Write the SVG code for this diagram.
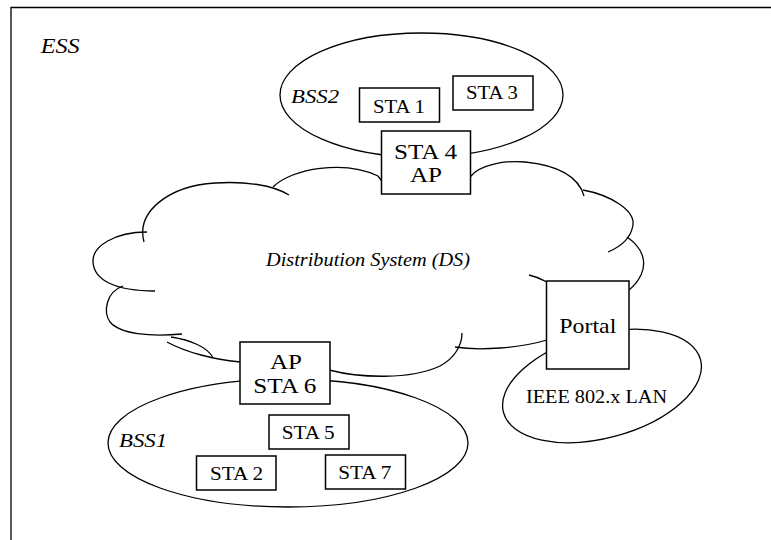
<svg xmlns="http://www.w3.org/2000/svg" width="771" height="540" viewBox="0 0 771 540">
<style>
.ln{fill:none;stroke:#000;stroke-width:1.3}
.bx{fill:#fff;stroke:#000;stroke-width:1.5}
.it{font-style:italic}
</style>
<rect width="771" height="540" fill="#fff"/>
<g font-family="Liberation Serif, Times New Roman, serif" fill="#000">
<g id="frame">
<path class="ln" d="M11,540 L11,7.5 L771,7.5" stroke-width="1.5"/>
<text class="it" x="40.7" y="53" font-size="20" textLength="39" lengthAdjust="spacingAndGlyphs">ESS</text>
</g>
<g id="bss2">
<ellipse class="ln" cx="421.5" cy="95" rx="141.5" ry="62"/>
<text class="it" x="291" y="102.5" font-size="19" textLength="48" lengthAdjust="spacingAndGlyphs">BSS2</text>
</g>
<g id="ds">
<path class="ln" d="M273,187 C292,168 345,160 378,176 L384,184"/>
<path class="ln" d="M144,242 C136,212 168,186 215,183 C245,181 273,185 289,195"/>
<path class="ln" d="M147,232 C115,232 92,246 93,262 C94,280 115,291 155,291"/>
<path class="ln" d="M123,286 C106,292 103,312 110,322 C120,334 150,337 182,334"/>
<path class="ln" d="M167,342 C185,352 215,360 241,362"/>
<path class="ln" d="M171,337 C190,340 208,347 213,358"/>
<path class="ln" d="M329,370 C360,378 410,380 440,366 C455,358 462,345 462,333"/>
<path class="ln" d="M455,347 C480,351 520,348 547,340"/>
<path class="ln" d="M529,275 Q538,277 547,282"/>
<path class="ln" d="M583,190 C610,195 635,210 633,225 C631,238 620,247 608,252"/>
<path class="ln" d="M627,237 C643,248 647,262 641,275 C638,281 634,286 629,290"/>
<path class="ln" d="M468,180 L471,176 C480,165 505,160 525,162 C555,165 578,175 584,196"/>
<text class="it" x="266" y="266" font-size="18" textLength="204" lengthAdjust="spacingAndGlyphs">Distribution System (DS)</text>
</g>
<g id="bss1">
<ellipse class="ln" cx="288" cy="443" rx="180" ry="64"/>
<text class="it" x="119" y="446.7" font-size="19" textLength="48" lengthAdjust="spacingAndGlyphs">BSS1</text>
</g>
<g id="lan">
<ellipse class="ln" cx="602" cy="386" rx="102" ry="52" transform="rotate(-15 602 386)"/>
<text x="526" y="403.3" font-size="18" textLength="141" lengthAdjust="spacingAndGlyphs">IEEE 802.x LAN</text>
</g>
<g id="sta1">
<rect class="bx" x="359.5" y="88" width="80" height="34"/>
<text x="373" y="112.7" font-size="18" textLength="52" lengthAdjust="spacingAndGlyphs">STA 1</text>
</g>
<g id="sta3">
<rect class="bx" x="453" y="76" width="80" height="34"/>
<text x="466" y="99.3" font-size="18" textLength="52" lengthAdjust="spacingAndGlyphs">STA 3</text>
</g>
<g id="sta4">
<rect class="bx" x="381.5" y="131" width="89" height="63"/>
<text x="394" y="159" font-size="22" textLength="63" lengthAdjust="spacingAndGlyphs">STA 4</text>
<text x="410" y="181.7" font-size="22" textLength="32" lengthAdjust="spacingAndGlyphs">AP</text>
</g>
<g id="sta6">
<rect class="bx" x="240" y="342" width="90" height="62"/>
<text x="270" y="369.3" font-size="22" textLength="32" lengthAdjust="spacingAndGlyphs">AP</text>
<text x="253.3" y="393.3" font-size="22" textLength="63" lengthAdjust="spacingAndGlyphs">STA 6</text>
</g>
<g id="portal">
<rect class="bx" x="546.5" y="281" width="82.5" height="88"/>
<text x="559.3" y="333.3" font-size="22" textLength="57" lengthAdjust="spacingAndGlyphs">Portal</text>
</g>
<g id="sta5">
<rect class="bx" x="269" y="415" width="80" height="34"/>
<text x="281.7" y="439" font-size="18" textLength="53" lengthAdjust="spacingAndGlyphs">STA 5</text>
</g>
<g id="sta2">
<rect class="bx" x="196.5" y="456" width="79.5" height="34"/>
<text x="210" y="480" font-size="18" textLength="53" lengthAdjust="spacingAndGlyphs">STA 2</text>
</g>
<g id="sta7">
<rect class="bx" x="325.5" y="455" width="80" height="34"/>
<text x="338.3" y="479.3" font-size="18" textLength="53" lengthAdjust="spacingAndGlyphs">STA 7</text>
</g>
<g id="connectors"/>
</g>
</svg>
